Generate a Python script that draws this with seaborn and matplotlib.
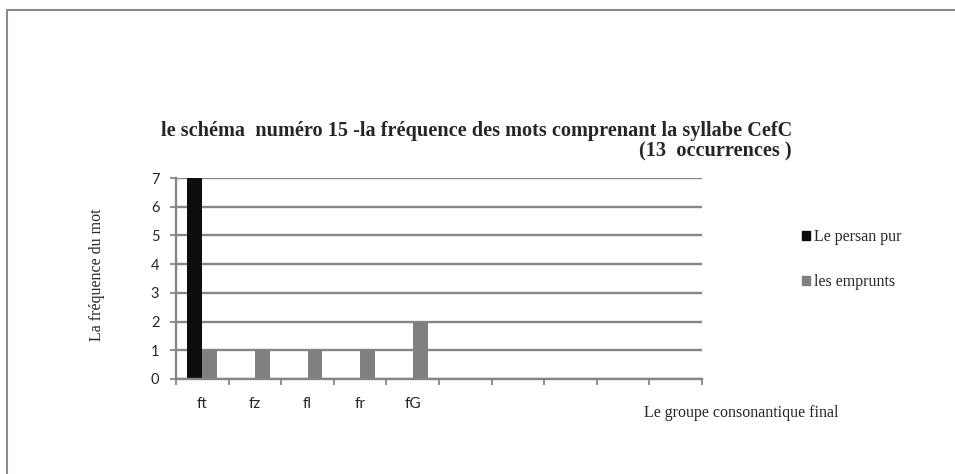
import matplotlib
matplotlib.use("Agg")
import matplotlib.pyplot as plt
from matplotlib.lines import Line2D
from matplotlib.ticker import MultipleLocator
import seaborn as sns
import pandas as pd

# data
groups = ["ft", "fz", "fl", "fr", "fG"]
persan_pur = [7, 0, 0, 0, 0]
emprunts = [1, 1, 1, 1, 2]
series_names = ["Le persan pur", "les emprunts"]
# the x axis has 10 slots, only the first 5 are labelled
blank_slots = [" " * i for i in range(1, 6)]

df = pd.DataFrame({
    "groupe": groups * 2,
    "freq": persan_pur + emprunts,
    "serie": [series_names[0]] * len(groups) + [series_names[1]] * len(groups),
})

sns.set_style("white")
serif = ["Liberation Serif", "DejaVu Serif"]
sans = ["Lato", "DejaVu Sans"]
grid_col = "#868686"

fig = plt.figure(figsize=(9.55, 4.74), dpi=100)
ax = fig.add_axes([176 / 955, 95 / 474, 526 / 955, 201 / 474])

sns.barplot(data=df, x="groupe", y="freq", hue="serie",
            order=groups + blank_slots, hue_order=series_names,
            palette=["#0d0d0d", "#808080"], width=0.57, saturation=1,
            linewidth=0, ax=ax, legend=False)

ax.set_ylim(0, 7)
ax.set_xlim(-0.5, len(groups) + len(blank_slots) - 0.5)
ax.yaxis.set_major_locator(MultipleLocator(1))
ax.set_axisbelow(True)
ax.grid(axis="y", color=grid_col, linewidth=1.7)
ax.grid(axis="x", visible=False)
sns.despine(ax=ax, top=True, right=True)
for s in ["left", "bottom"]:
    ax.spines[s].set_color(grid_col)
    ax.spines[s].set_linewidth(1.7)

ax.set_xticks(range(10))
ax.set_xticklabels(groups + [""] * 5, fontfamily=sans, fontsize=11)
ax.tick_params(axis="x", length=0, pad=13)
ax.set_xticks([i - 0.5 for i in range(11)], minor=True)
ax.tick_params(axis="x", which="minor", length=4, width=1.3, color=grid_col,
               direction="out", bottom=True)
ax.tick_params(axis="y", length=4, width=1.3, color=grid_col, left=True,
               direction="out", pad=8)
for lab in ax.get_yticklabels():
    lab.set_fontfamily(sans)
    lab.set_fontsize(10.5)
ax.set_xlabel("")
ax.set_ylabel("")

fig.text(792 / 955, 1 - 141 / 474,
         "le schéma  numéro 15 -la fréquence des mots comprenant la syllabe CefC\n(13  occurrences )",
         ha="right", va="center", multialignment="right",
         fontfamily=serif, fontsize=14.6, fontweight="bold", linespacing=1.0)
fig.text(97 / 955, 1 - 275 / 474, "La fréquence du mot", rotation=90,
         ha="center", va="center", fontfamily=serif, fontsize=11.5)
fig.text(644 / 955, 1 - 413 / 474, "Le groupe consonantique final",
         ha="left", va="center", fontfamily=serif, fontsize=11.5)

handles = [plt.Rectangle((0, 0), 1, 1, color=c) for c in ["#0d0d0d", "#808080"]]
fig.legend(handles, series_names, loc="upper left",
           bbox_to_anchor=(802 / 955, 1 - 229 / 474), frameon=False,
           prop={"family": serif, "size": 11.5}, handlelength=0.5,
           handleheight=0.5, handletextpad=0.25, labelspacing=1.8,
           borderaxespad=0, borderpad=0)

# frame lines at top and left of the picture
fig.add_artist(Line2D([7 / 955, 1], [1 - 10 / 474, 1 - 10 / 474],
                      color="#8c8c8c", linewidth=1.5))
fig.add_artist(Line2D([7 / 955, 7 / 955], [0, 1 - 10 / 474],
                      color="#8c8c8c", linewidth=1.5))

fig.savefig("out.png", dpi=100)
